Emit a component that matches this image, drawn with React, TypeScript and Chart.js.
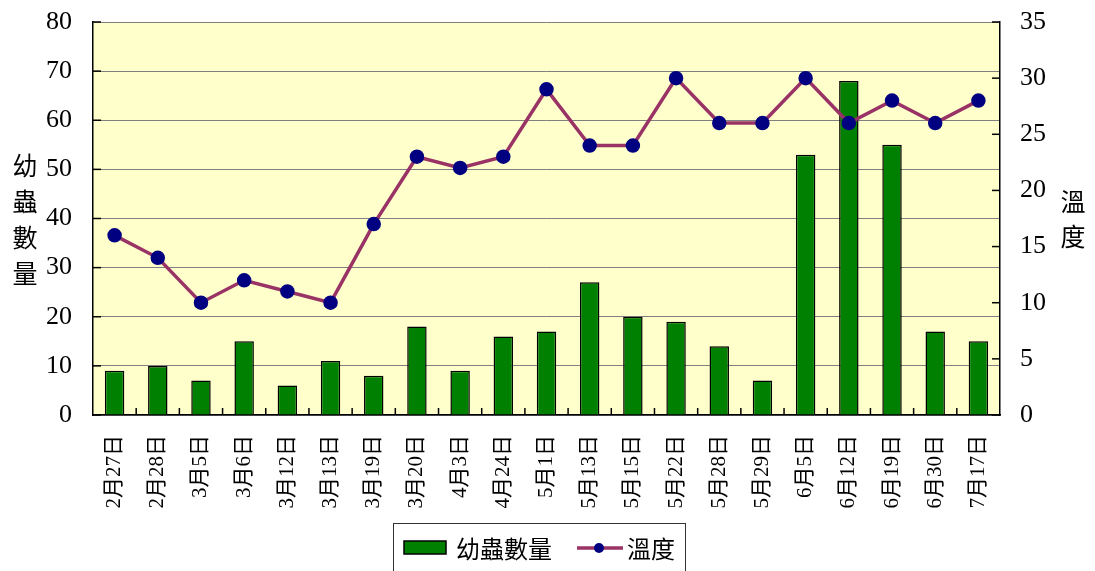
import React, { useEffect, useRef } from "react";
import { Chart, registerables } from "chart.js";

Chart.register(...registerables);

const categories = [
  "2月27日", "2月28日", "3月5日", "3月6日", "3月12日", "3月13日", "3月19日",
  "3月20日", "4月3日", "4月24日", "5月1日", "5月13日", "5月15日", "5月22日",
  "5月28日", "5月29日", "6月5日", "6月12日", "6月19日", "6月30日", "7月17日",
];
const larvaeCounts = [9, 10, 7, 15, 6, 11, 8, 18, 9, 16, 17, 27, 20, 19, 14, 7, 53, 68, 55, 17, 15];
const temperatures = [16, 14, 10, 12, 11, 10, 17, 23, 22, 23, 29, 24, 24, 30, 26, 26, 30, 26, 28, 26, 28];
const barLabel = "幼蟲數量";
const lineLabel = "溫度";
const leftTitle = ["幼", "蟲", "數", "量"];
const rightTitle = ["溫", "度"];

const FONT = '"Liberation Serif", "Noto Sans CJK TC", serif';
const BAR_COLOR = "#008000";
const LINE_COLOR = "#993366";
const POINT_COLOR = "#000080";

const decorPlugin = {
  id: "decor",
  beforeDraw(chart: any) {
    const { ctx, chartArea } = chart;
    ctx.save();
    ctx.fillStyle = "#FFFFCC";
    ctx.fillRect(chartArea.left, chartArea.top, chartArea.right - chartArea.left, chartArea.bottom - chartArea.top);
    ctx.restore();
  },
  afterDraw(chart: any) {
    const { ctx, chartArea } = chart;
    const y = chart.scales.y;
    const y1 = chart.scales.y1;
    ctx.save();
    ctx.strokeStyle = "#000";
    ctx.lineWidth = 1.5;
    // inward ticks
    for (let v = 0; v <= 80; v += 10) {
      const py = y.getPixelForValue(v);
      ctx.beginPath();
      ctx.moveTo(chartArea.left, py);
      ctx.lineTo(chartArea.left + 8, py);
      ctx.stroke();
    }
    for (let v = 0; v <= 35; v += 5) {
      const py = y1.getPixelForValue(v);
      ctx.beginPath();
      ctx.moveTo(chartArea.right, py);
      ctx.lineTo(chartArea.right - 8, py);
      ctx.stroke();
    }
    const n = categories.length;
    const w = (chartArea.right - chartArea.left) / n;
    for (let i = 1; i < n; i++) {
      const px = chartArea.left + w * i;
      ctx.beginPath();
      ctx.moveTo(px, chartArea.bottom);
      ctx.lineTo(px, chartArea.bottom - 7);
      ctx.stroke();
    }
    // axis titles (stacked vertical characters)
    ctx.fillStyle = "#000";
    ctx.font = '25px "Noto Sans CJK TC", sans-serif';
    ctx.textAlign = "center";
    ctx.textBaseline = "middle";
    leftTitle.forEach((c, i) => ctx.fillText(c, 25, 165 + i * 36));
    rightTitle.forEach((c, i) => ctx.fillText(c, 1073, 201 + i * 35));
    // legend
    ctx.strokeStyle = "#333";
    ctx.lineWidth = 1;
    ctx.strokeRect(393.5, 523.5, 292, 60);
    ctx.fillStyle = BAR_COLOR;
    ctx.fillRect(404, 541, 42, 13);
    ctx.strokeStyle = "#000";
    ctx.lineWidth = 1.5;
    ctx.strokeRect(404, 541, 42, 13);
    ctx.fillStyle = "#000";
    ctx.font = '24px "Noto Sans CJK TC", sans-serif';
    ctx.textAlign = "left";
    ctx.textBaseline = "middle";
    ctx.fillText(barLabel, 456, 549);
    ctx.strokeStyle = LINE_COLOR;
    ctx.lineWidth = 3.5;
    ctx.beginPath();
    ctx.moveTo(577, 548);
    ctx.lineTo(623, 548);
    ctx.stroke();
    ctx.fillStyle = POINT_COLOR;
    ctx.beginPath();
    ctx.arc(599, 548, 5, 0, Math.PI * 2);
    ctx.fill();
    ctx.fillStyle = "#000";
    ctx.fillText(lineLabel, 627, 549);
    ctx.restore();
  },
};

export default function App() {
  const ref = useRef<HTMLCanvasElement | null>(null);
  useEffect(() => {
    if (!ref.current) return;
    const chart = new Chart(ref.current, {
      type: "bar",
      data: {
        labels: categories,
        datasets: [
          {
            type: "line",
            label: lineLabel,
            data: temperatures,
            yAxisID: "y1",
            borderColor: LINE_COLOR,
            borderWidth: 3.5,
            pointBackgroundColor: POINT_COLOR,
            pointBorderColor: POINT_COLOR,
            pointRadius: 5.5,
            tension: 0,
            order: 0,
          } as any,
          {
            type: "bar",
            label: barLabel,
            data: larvaeCounts,
            yAxisID: "y",
            backgroundColor: BAR_COLOR,
            borderColor: "#000",
            borderWidth: 1.5,
            barPercentage: 0.45,
            categoryPercentage: 1,
            order: 1,
          },
        ],
      },
      options: {
        responsive: false,
        animation: false,
        layout: { padding: { top: 22, left: 0, right: 0, bottom: 0 } },
        plugins: { legend: { display: false }, tooltip: { enabled: false } },
        scales: {
          x: {
            grid: { display: false, drawTicks: false },
            border: { display: true, color: "#000", width: 1.5 },
            ticks: {
              color: "#000",
              font: { family: FONT, size: 21 },
              minRotation: 90,
              maxRotation: 90,
              padding: 20,
              autoSkip: false,
            },
            afterFit(scale: any) {
              scale.height = 156;
            },
          },
          y: {
            position: "left",
            min: 0,
            max: 80,
            grid: { color: "#808080", lineWidth: 1, drawTicks: false },
            border: { display: true, color: "#000", width: 1.5 },
            ticks: {
              stepSize: 10,
              color: "#000",
              font: { family: FONT, size: 26 },
              padding: 21,
            },
            afterFit(scale: any) {
              scale.width = 93;
              scale.paddingTop = 0;
              scale.paddingBottom = 0;
            },
          },
          y1: {
            position: "right",
            min: 0,
            max: 35,
            grid: { display: false, drawTicks: false },
            border: { display: true, color: "#000", width: 1.5 },
            ticks: {
              stepSize: 5,
              color: "#000",
              font: { family: FONT, size: 26 },
              padding: 20,
            },
            afterFit(scale: any) {
              scale.width = 95;
              scale.paddingTop = 0;
              scale.paddingBottom = 0;
            },
          },
        },
      },
      plugins: [decorPlugin],
    });
    return () => chart.destroy();
  }, []);
  return (
    <div style={{ position: "absolute", left: 0, top: 0, width: 1095, height: 571 }}>
      <canvas ref={ref} width={1095} height={571} style={{ display: "block" }} />
    </div>
  );
}
